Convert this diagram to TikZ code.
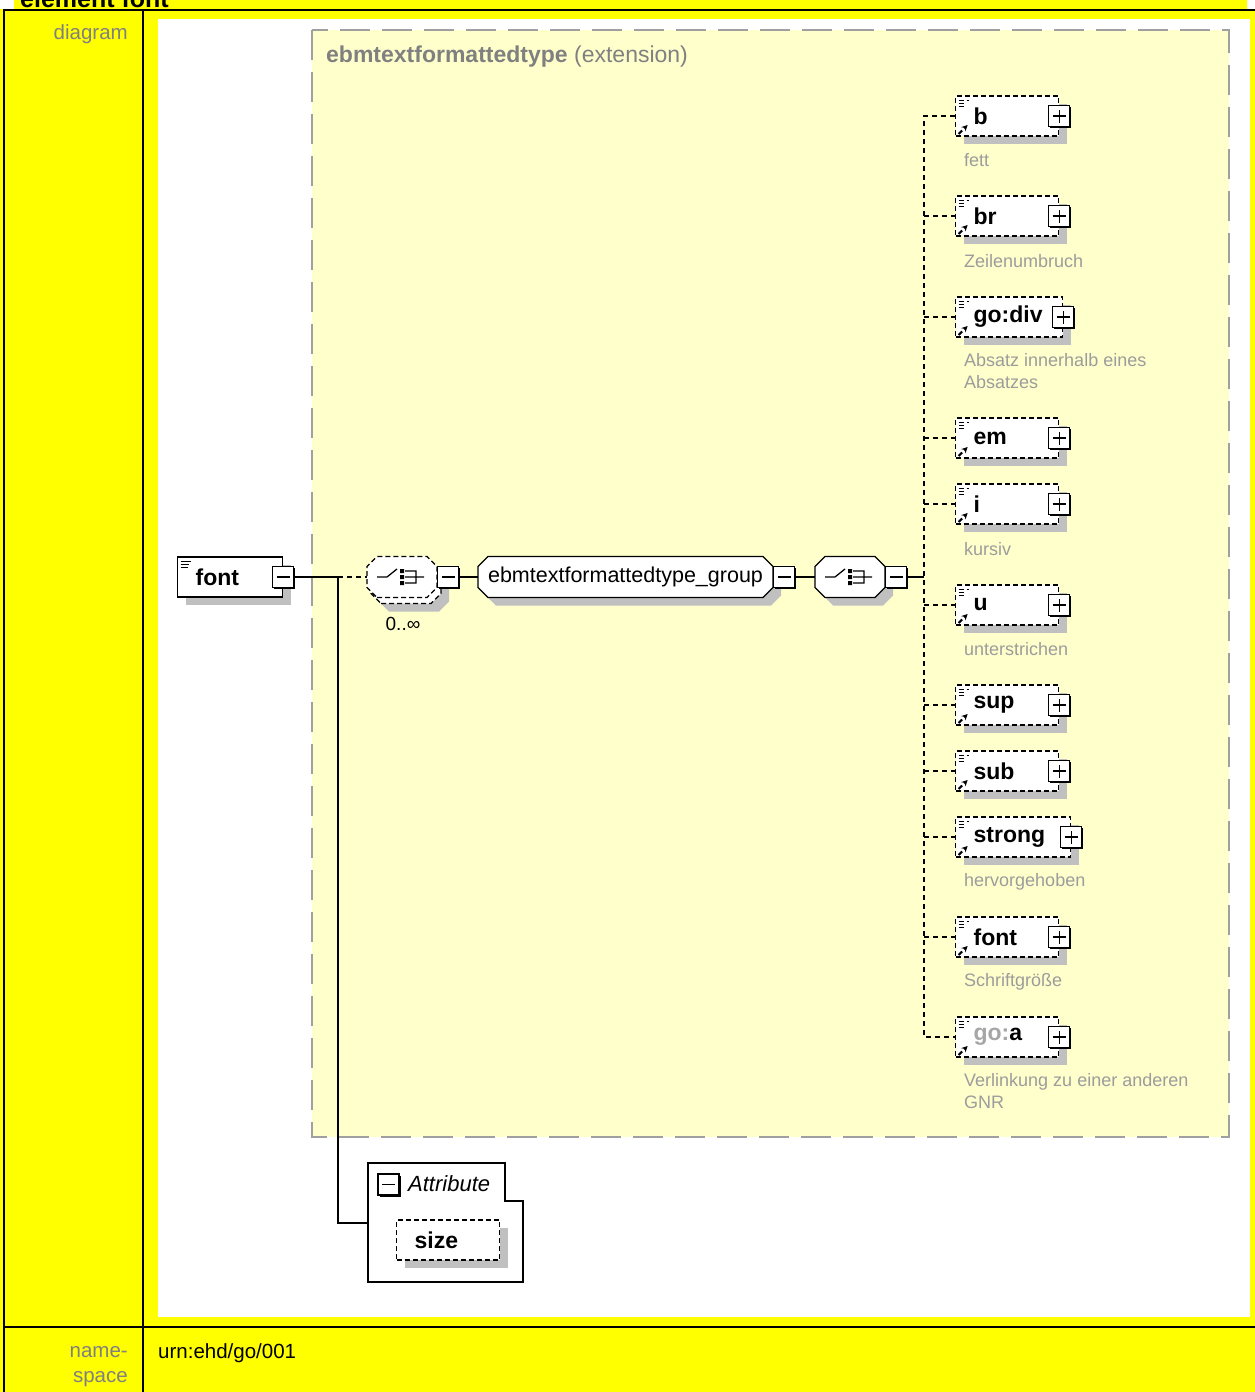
\documentclass[tikz,border=0pt]{standalone}
\usepackage{fontspec}
\setmainfont{Liberation Sans}
\usetikzlibrary{shadows,arrows.meta,positioning}

\definecolor{cellyellow}{HTML}{FFFF00}
\definecolor{extfill}{HTML}{FFFFCC}
\definecolor{extline}{HTML}{A0A0A0}
\definecolor{shade}{HTML}{C0C0C0}
\definecolor{lblgray}{HTML}{808080}
\definecolor{descgray}{HTML}{9C9C9C}

\newcommand\fsz[1]{\fontsize{#1}{#1}\selectfont}
\newcommand\linesicon{\draw[line width=1pt] ([shift={(3,4)}]path picture bounding box.north west) -- ++(10,0) ([shift={(3,7)}]path picture bounding box.north west) -- ++(8,0) ([shift={(3,10)}]path picture bounding box.north west) -- ++(7,0);}
\newcommand\reficon{\draw[line width=2pt, -{Stealth[length=6pt,width=6pt]}] ([shift={(3,-2)}]path picture bounding box.south west) -- ++(9,-9);}

\makeatletter
\pgfdeclareshape{octagonbox}{%
    \inheritsavedanchors[from=rectangle]
    \inheritanchorborder[from=rectangle]
    \inheritanchor[from=rectangle]{center}
    \inheritanchor[from=rectangle]{north}
    \inheritanchor[from=rectangle]{south}
    \inheritanchor[from=rectangle]{east}
    \inheritanchor[from=rectangle]{west}
    \inheritanchor[from=rectangle]{north east}
    \inheritanchor[from=rectangle]{north west}
    \inheritanchor[from=rectangle]{south east}
    \inheritanchor[from=rectangle]{south west}
    \backgroundpath{%
        \southwest \edef\octl{\the\pgf@x}\edef\octb{\the\pgf@y}%
        \northeast \edef\octr{\the\pgf@x}\edef\octt{\the\pgf@y}%
        \pgfpathmoveto{\pgfqpoint{\dimexpr\octl+10pt\relax}{\octb}}%
        \pgfpathlineto{\pgfqpoint{\dimexpr\octr-10pt\relax}{\octb}}%
        \pgfpathlineto{\pgfqpoint{\octr}{\dimexpr\octb+10pt\relax}}%
        \pgfpathlineto{\pgfqpoint{\octr}{\dimexpr\octt-10pt\relax}}%
        \pgfpathlineto{\pgfqpoint{\dimexpr\octr-10pt\relax}{\octt}}%
        \pgfpathlineto{\pgfqpoint{\dimexpr\octl+10pt\relax}{\octt}}%
        \pgfpathlineto{\pgfqpoint{\octl}{\dimexpr\octt-10pt\relax}}%
        \pgfpathlineto{\pgfqpoint{\octl}{\dimexpr\octb+10pt\relax}}%
        \pgfpathclose
    }%
}
\makeatother

\begin{document}
\begin{tikzpicture}[x=1pt, y=-1pt, every node/.style={inner sep=0pt, font=\fsz{21}},
    solidlink/.style={line width=1.5pt},
    dashlink/.style={line width=1.5pt, dash pattern=on 5pt off 4pt},
    boxshadow/.style={drop shadow={shadow xshift=8pt, shadow yshift=-8pt, fill=shade, opacity=1}},
    elem/.style={draw, fill=white, line width=1.2pt, minimum height=40pt, inner xsep=18pt, anchor=west, align=left, font=\fsz{23}\bfseries, boxshadow},
    rootelem/.style={elem, path picture={\linesicon}},
    refelem/.style={elem, dash pattern=on 5pt off 3pt, path picture={\linesicon\reficon}},
    optattr/.style={elem, dash pattern=on 5pt off 3pt},
    octa/.style={octagonbox, draw, fill=white, line width=1.2pt, outer sep=0pt, minimum height=41pt},
    btn/.style={draw, fill=white, line width=1.2pt, minimum size=21pt, drop shadow={shadow xshift=1.5pt, shadow yshift=-1.5pt, fill=black, opacity=1}},
    minusbtn/.style={btn, path picture={\draw[line width=1.4pt] ([xshift=4pt]path picture bounding box.west) -- ([xshift=-4pt]path picture bounding box.east);}},
    plusbtn/.style={btn, path picture={\draw[line width=1.4pt] ([xshift=4pt]path picture bounding box.west) -- ([xshift=-4pt]path picture bounding box.east) ([yshift=4pt]path picture bounding box.south) -- ([yshift=-4pt]path picture bounding box.north);}},
    desc/.style={anchor=west, align=left, text=descgray, font=\fontsize{18}{22}\selectfont},
    lbl/.style={text=lblgray, font=\fsz{20.5}},
    seqmark/.pic={
        \draw[line width=1.3pt] (-25,0) -- (-15,0) -- (-5,-8) (3,-6) -- (14,-6) -- (14,6) -- (3,6) (3,0) -- (22,0);
        \fill (-2,-8) rectangle (2,-4) (-2,-2) rectangle (2,2) (-2,4) rectangle (2,8);
    }]

    \useasboundingbox (0,0) rectangle (1255,1392);
    \fill[white] (0,0) rectangle (1255,1392);
    \fill[cellyellow] (14,0) rectangle (1247,10) (0,9) rectangle (1255,1392);
    \fill[white] (158,19) rectangle (1250,1317);
    \draw[line width=2pt] (4,1392) -- (4,9.5) -- (1255,9.5) (143,9.5) -- (143,1392) (4,1327) -- (1255,1327);

    \node[anchor=base west, font=\fsz{25}\bfseries] (heading) at (20,7) {element font};
    \node[lbl, anchor=base east] (diaglbl) at (128,39) {diagram};
    \node[lbl, anchor=base east] (nslbl) at (128,1357) {name-};
    \node[lbl, anchor=base east] (nslbl2) at (128,1382) {space};
    \node[anchor=base west, font=\fsz{20.5}] (nsval) at (158,1358) {urn:ehd/go/001};

    \draw[extline, fill=extfill, line width=2pt, dash pattern=on 30pt off 12pt] (312,30) rectangle (1229,1137);
    \node[anchor=west, text=lblgray, font=\fsz{23}] (exttitle) at (326,57) {\textbf{ebmtextformattedtype} (extension)};

    \node[rootelem, minimum width=105pt, text width=69pt] (root) at (177,577) {font};
    \node[minusbtn] (rootbtn) at (root.east) {};

    \node[octa, boxshadow, dash pattern=on 5pt off 3pt, minimum width=70pt] (seq1back) at (406,583) {};
    \node[octa, dash pattern=on 5pt off 3pt, minimum width=70pt] (seq1) at (402,577) {};
    \pic at (seq1) {seqmark};
    \node[font=\fsz{19}] (seq1mult) at (403,624) {0..∞};
    \node[minusbtn, anchor=west] (seq1btn) at (seq1.east) {};

    \node[octa, boxshadow, minimum width=295pt, font=\fsz{21.5}] (group) at (625.5,577) {ebmtextformattedtype\_group};
    \node[minusbtn, anchor=west] (groupbtn) at (group.east) {};

    \node[octa, boxshadow, minimum width=70pt] (seq2) at (850,577) {};
    \pic at (seq2) {seqmark};
    \node[minusbtn, anchor=west] (seq2btn) at (seq2.east) {};

    \coordinate (fork) at (338,577);
    \coordinate (spine) at (924,577);
    \coordinate (attrin) at (368,1223);

    \node[refelem, minimum width=103pt, text width=67pt] (b) at (955,116) {b};
    \node[plusbtn] (bbtn) at (b.east) {};
    \node[refelem, minimum width=103pt, text width=67pt] (br) at (955,216) {br};
    \node[plusbtn] (brbtn) at (br.east) {};
    \node[refelem, minimum width=107pt, text width=71pt] (godiv) at (955,317) {go:div};
    \node[plusbtn] (godivbtn) at (godiv.east) {};
    \node[refelem, minimum width=103pt, text width=67pt] (em) at (955,438) {em};
    \node[plusbtn] (embtn) at (em.east) {};
    \node[refelem, minimum width=103pt, text width=67pt] (i) at (955,504) {i};
    \node[plusbtn] (ibtn) at (i.east) {};
    \node[refelem, minimum width=103pt, text width=67pt] (u) at (955,605) {u};
    \node[plusbtn] (ubtn) at (u.east) {};
    \node[refelem, minimum width=103pt, text width=67pt] (sup) at (955,705) {sup};
    \node[plusbtn] (supbtn) at (sup.east) {};
    \node[refelem, minimum width=103pt, text width=67pt] (sub) at (955,771) {sub};
    \node[plusbtn] (subbtn) at (sub.east) {};
    \node[refelem, minimum width=115pt, text width=79pt] (strong) at (955,837) {strong};
    \node[plusbtn] (strongbtn) at (strong.east) {};
    \node[refelem, minimum width=103pt, text width=67pt] (fontref) at (955,937) {font};
    \node[plusbtn] (fontrefbtn) at (fontref.east) {};
    \node[refelem, minimum width=103pt, text width=67pt] (goa) at (955,1037) {\textcolor{lblgray!70}{go:}a};
    \node[plusbtn] (goabtn) at (goa.east) {};

    \node[desc] (bdesc) at (964,160) {fett};
    \node[desc] (brdesc) at (964,261) {Zeilenumbruch};
    \node[desc] (godivdesc) at (964,371) {Absatz innerhalb eines\\Absatzes};
    \node[desc] (idesc) at (964,549) {kursiv};
    \node[desc] (udesc) at (964,649) {unterstrichen};
    \node[desc] (strongdesc) at (964,882) {hervorgehoben};
    \node[desc] (fontrefdesc) at (964,982) {Schriftgröße};
    \node[desc] (goadesc) at (964,1091) {Verlinkung zu einer anderen\\GNR};

    \draw[line width=1.2pt, fill=white] (368,1163) -- (505,1163) -- (505,1201) -- (523,1201) -- (523,1282) -- (368,1282) -- cycle;
    \node[minusbtn] (attrbtn) at (388.5,1184.5) {};
    \node[anchor=west, font=\fsz{22}\itshape] (attrlbl) at (408,1184) {Attribute};
    \node[optattr, minimum width=103pt, text width=67pt] (size) at (396,1240) {size};

    \draw[solidlink] (rootbtn.east) -- (fork) |- (attrin);
    \draw[dashlink] (fork) -- (seq1.west);
    \draw[solidlink] (seq1btn.east) -- (group.west);
    \draw[solidlink] (groupbtn.east) -- (seq2.west);
    \draw[solidlink] (seq2btn.east) -- (spine);
    \draw[dashlink] (b.west) -| (spine) |- (goa.west);
    \draw[dashlink] (br.west -| spine) -- (br.west) (godiv.west -| spine) -- (godiv.west)
        (em.west -| spine) -- (em.west) (i.west -| spine) -- (i.west)
        (u.west -| spine) -- (u.west) (sup.west -| spine) -- (sup.west)
        (sub.west -| spine) -- (sub.west) (strong.west -| spine) -- (strong.west)
        (fontref.west -| spine) -- (fontref.west);
\end{tikzpicture}
\end{document}
